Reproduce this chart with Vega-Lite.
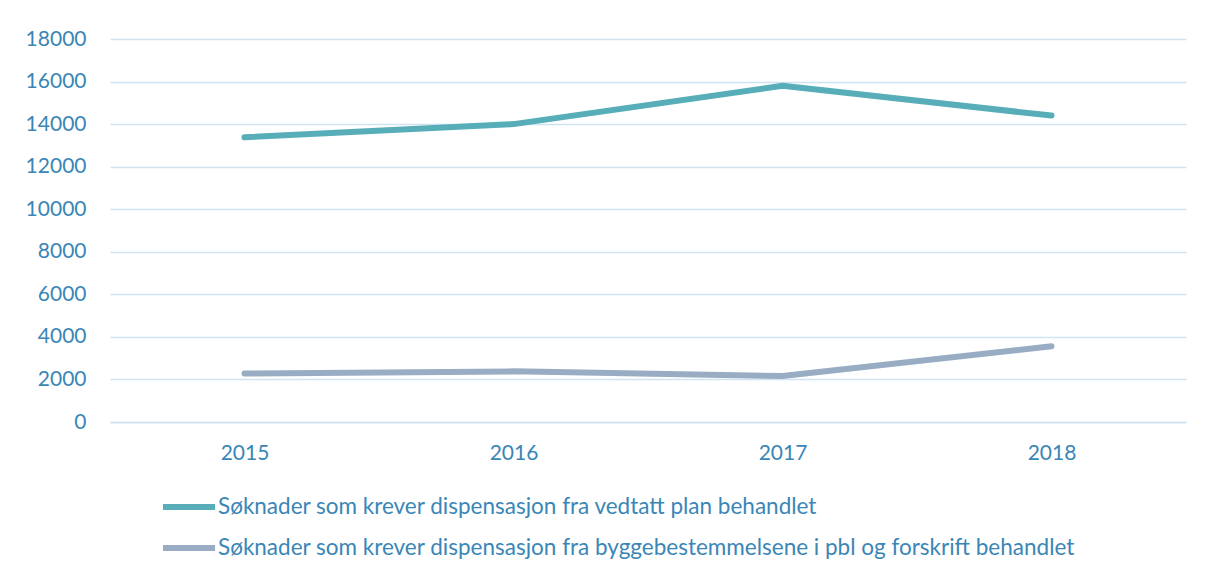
{
  "$schema": "https://vega.github.io/schema/vega-lite/v6.json",
  "autosize": "none",
  "width": 1076,
  "height": 383,
  "padding": {"left": 110, "top": 39, "right": 24, "bottom": 159},
  "background": "white",
  "config": {
    "view": {"stroke": null},
    "font": "Lato",
    "axis": {"labelFont": "Lato", "labelColor": "#3A86B6", "labelFontSize": 21}
  },
  "data": {
    "values": [
      {"year": "2015", "serie": "Søknader som krever dispensasjon fra vedtatt plan behandlet", "value": 13380},
      {"year": "2016", "serie": "Søknader som krever dispensasjon fra vedtatt plan behandlet", "value": 14000},
      {"year": "2017", "serie": "Søknader som krever dispensasjon fra vedtatt plan behandlet", "value": 15800},
      {"year": "2018", "serie": "Søknader som krever dispensasjon fra vedtatt plan behandlet", "value": 14400},
      {"year": "2015", "serie": "Søknader som krever dispensasjon fra byggebestemmelsene i pbl og forskrift behandlet", "value": 2280},
      {"year": "2016", "serie": "Søknader som krever dispensasjon fra byggebestemmelsene i pbl og forskrift behandlet", "value": 2380},
      {"year": "2017", "serie": "Søknader som krever dispensasjon fra byggebestemmelsene i pbl og forskrift behandlet", "value": 2160},
      {"year": "2018", "serie": "Søknader som krever dispensasjon fra byggebestemmelsene i pbl og forskrift behandlet", "value": 3560}
    ]
  },
  "mark": {"type": "line", "strokeWidth": 6, "strokeCap": "round", "strokeJoin": "round"},
  "encoding": {
    "x": {
      "field": "year", "type": "ordinal", "title": null,
      "scale": {"type": "point", "padding": 0.5},
      "axis": {"labelAngle": 0, "ticks": false, "domain": true, "domainColor": "#D0E3F1", "domainWidth": 1.5, "labelPadding": 20, "grid": false}
    },
    "y": {
      "field": "value", "type": "quantitative", "title": null,
      "scale": {"domain": [0, 18000], "nice": false},
      "axis": {"values": [0, 2000, 4000, 6000, 8000, 10000, 12000, 14000, 16000, 18000], "format": "d", "ticks": false, "domain": false, "labelPadding": 24, "gridColor": "#D0E3F1", "gridWidth": 1.5}
    },
    "color": {
      "field": "serie", "type": "nominal",
      "sort": ["Søknader som krever dispensasjon fra vedtatt plan behandlet", "Søknader som krever dispensasjon fra byggebestemmelsene i pbl og forskrift behandlet"],
      "scale": {"range": ["#57AEB8", "#98ADC3"]},
      "legend": {
        "title": null,
        "orient": "none",
        "legendX": 50,
        "legendY": 439,
        "direction": "vertical",
        "symbolType": "stroke",
        "symbolSize": 2704,
        "symbolStrokeWidth": 6,
        "labelFontSize": 22.5,
        "labelFont": "Lato",
        "labelColor": "#3A86B6",
        "labelLimit": 1200,
        "labelOffset": 0,
        "rowPadding": -3
      }
    }
  }
}
